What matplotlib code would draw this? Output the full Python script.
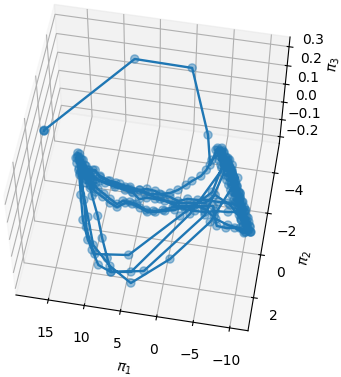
import matplotlib.pyplot as plt

pi1 = [17.8,17.8,17.8,7.5,-0.2,-3.0,-3.4,-4.0,-4.6,-5.2,-5.8,-6.5,-6.9,-7.6,-8.0,-8.6,-9.2,-9.8,-10.4,-9.8,
-8.4,-7.2,-5.9,-5.3,-4.9,-3.5,-2.1,-0.7,0.6,1.9,3.2,4.2,5.7,6.7,7.7,8.4,9.5,10.5,11.5,12.4,
13.2,14.1,14.9,15.4,14.8,13.7,12.6,11.3,9.9,5.3,-0.6,-4.4,-5.1,-4.4,-4.7,
-5.4,-6.1,-6.9,-7.6,-8.3,-8.9,-9.6,-10.2,-10.6,-9.1,-8.7,-7.1,-5.3,-3.9,-2.5,-1.1,0.4,1.9,3.3,4.5,5.5,6.5,7.7,9.2,10.7,12.0,13.1,14.1,15.0,14.4,13.1,11.9,10.4,9.1,7.2,4.5,-1.9,-5.5,-4.6,-5.0,-6.0,-7.1,-8.0,-8.7,-9.3,-10.0,-10.0,-8.3,-6.9,-5.5,-4.0,-2.6,-1.2,0.1,1.3,2.5,3.5,4.7,5.7,6.7,7.8,9.2,10.4,11.6,12.5,13.5,14.7,15.4,14.5,12.0,10.4,7.5,4.2,-0.4,-4.9,-7.6,-6.5,-5.7,-6.6,-7.5,-8.4,-9.1,-9.9,-10.3,-7.5,-4.7,-3.5,-3.0,-2.4,-1.3,-0.6,0.4,1.4,2.8,4.2,5.7,7.1,8.6,10.1,11.6,12.8,13.2,12.6,12.1,10.7,9.4,8.1,7.2,2.8,-4.0,-6.0,-6.6,-7.4,-8.3,-9.4,-4.6,-4.1,-5.0,-5.8,-5.6,-6.4,-6.2,-7.1,-6.8,-7.7,-7.4,-8.3,-7.9,-8.9,-8.4,-9.5,-9.0,-10.0,-9.5,-10.4,-9.9,-10.7,-7.2,-4.9,-3.7,-1.6,0.4,2.6,4.9,7.1,9.3,11.5,12.7,14.0,13.4,14.5,13.3,15.0,13.8,15.5,14.3,12.7,13.6,12.2,
15.6,15.2,15.3,14.5,14.8,13.9,14.5,13.3,13.9,12.8,13.4,12.0,
12.6,11.7,10.6,9.4,8.3,7.3,6.3,5.1,4.0,2.9,1.6,0.3,-1.0,-2.4,-3.8,-5.6,-7.4,-9.1,
-10.7,-9.7,-10.5,-9.5,-10.2,-9.1,-9.8,-8.7,-9.4,-8.3,-9.2,-8.0,-8.8,-7.6,-8.4,-7.2,-8.1,-6.9,-7.7,-6.5,-7.3,-6.1,-6.9,-5.7,-6.6,-5.5,-6.2,-4.9,-5.8,-4.5,-5.4,-4.2,-5.0,-3.8]
pi2 = [-0.79,-0.79,-0.83,-3.88,-4.02,-3.38,-3.60,-4.49,-4.27,-3.95,-3.58,-3.21,-2.84,-2.47,-2.10,-1.75,-1.39,-1.03,-0.73,-0.60,
-0.77,-0.71,-0.74,-1.19,-1.65,-1.58,-1.46,-1.44,-1.32,-1.11,-1.00,-0.99,-1.21,-1.26,-1.26,-1.07,-1.26,-1.46,-1.65,-1.86,
-2.11,-2.46,-2.82,-3.10,-2.43,-1.25,-0.09,0.80,1.40,1.21,-0.95,-2.31,-3.54,-4.11,-4.42,-4.06,-3.59,-3.13,-2.67,-2.21,
-1.76,-1.31,-0.86,-0.69,-1.19,-1.56,-1.47,-1.43,-1.31,-1.29,-1.31,-1.43,-1.55,-1.58,-1.57,-1.46,-1.71,-1.79,-1.87,-1.99,-2.12,-2.36,-2.71,-3.02,-2.35,-1.03,0.22,1.23,1.87,2.1,1.96,-1.11,-3.71,-4.32,-4.29,-3.74,-3.04,-2.49,-1.99,-1.58,-1.04,-0.66,-1.87,-1.9,-1.88,-1.9,-1.83,-1.81,-1.64,-1.78,-1.82,-1.96,-2.0,-1.9,-1.75,-1.94,-2.07,-2.11,-2.24,-2.54,-2.49,-2.94,-3.0,-2.2,-0.26,1.0,1.84,2.46,1.11,-0.88,-3.17,-3.76,-4.07,-3.42,-2.82,-2.22,-1.67,-1.13,-0.77,-2.57,-4.33,-3.86,-3.33,-3.0,-2.7,-2.46,-2.17,-1.97,-1.85,-1.78,-1.9,-1.97,-2.05,-2.12,-2.29,-2.53,-2.11,-1.64,-1.28,-0.38,0.62,1.5,2.1,1.83,-1.17,-3.99,-3.51,-2.96,-2.46,-1.69,-4.52,-4.4,-4.04,-3.97,-3.67,-3.51,-3.19,-3.14,-2.83,-2.78,-2.42,-2.41,-2.0,-2.05,-1.64,-1.69,-1.28,-1.33,-0.92,-0.97,-0.65,-0.69,-1.82,-2.19,-1.74,-1.63,-1.53,-1.61,-1.79,-1.88,-1.96,-2.05,-2.14,-2.37,-2.5,-2.69,-2.0,-2.92,-2.23,-3.25,-2.6,-1.79,-2.19,-1.66,
-2.99,-3.21,-2.75,-2.94,-2.53,-2.67,-2.29,-2.40,-2.07,-2.13,-1.85,-1.92,
-1.75,-1.49,-1.31,-1.07,-0.93,-1.18,-1.18,-1.05,-0.91,-0.96,-1.08,-1.20,-1.41,-1.57,-1.45,-1.06,-0.86,-0.80,
-0.69,-0.74,-0.92,-0.97,-1.15,-1.19,-1.37,-1.41,-1.59,-1.63,-1.82,-1.86,-2.04,-2.08,-2.27,-2.31,-2.50,-2.54,-2.73,-2.77,-2.95,-2.99,-3.18,-3.22,-3.42,-3.46,-3.65,-3.68,-3.88,-3.91,-4.11,-4.15,-4.34,-4.38]
# only the first few points leave the floor, the rest stay about level
pi3 = [0.2, 0.2, 0.2, 0.3, 0.28, 0.0] + [-0.2] * (len(pi1) - 6)

pi1_ticks = [-10, -5, 0, 5, 10, 15]
pi2_ticks = [-4, -2, 0, 2]
pi3_ticks = [-0.2, -0.1, 0, 0.1, 0.2, 0.3]

fig = plt.figure(figsize=(3.41, 3.77), dpi=100)
ax = fig.add_axes([-0.07, 0.043, 1, 1], projection='3d')
ax.plot(pi1, pi2, pi3, lw=1.7)
ax.scatter(pi1, pi2, pi3, s=34, alpha=.45)
ax.view_init(elev=56, azim=100)
ax.set_xlim(-12.5, 19.5)
ax.set_ylim(-5.5, 3.5)
ax.set_zlim(-0.24, 0.35)
ax.set_box_aspect((4.1, 4, 3.18), zoom=1.08)
ax.set_xticks(pi1_ticks)
ax.set_yticks(pi2_ticks)
ax.set_zticks(pi3_ticks)
ax.set_xlabel(r'$\pi_1$')
ax.set_ylabel(r'$\pi_2$')
ax.set_zlabel(r'$\pi_3$')
fig.savefig('out.png', dpi=100)
